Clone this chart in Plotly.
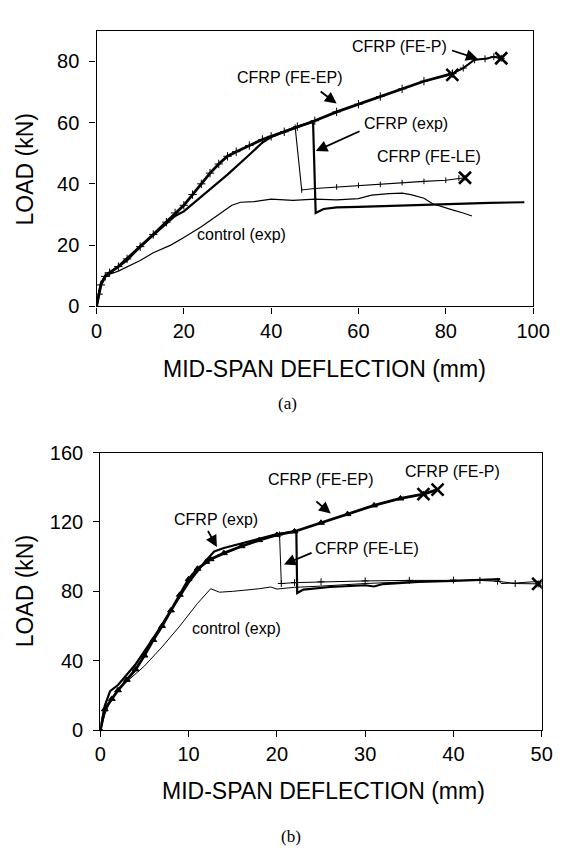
import plotly.graph_objects as go

# ---- panel (a) data : deflection (mm) / load (kN) ----
a_control_x = [0, 0.5, 1, 2, 3, 5, 8, 10, 13, 16, 17, 20, 24, 28, 31, 33, 36, 40, 45, 50,
               55, 60, 63, 67, 70, 72, 75, 77, 79, 81.5, 84, 86]
a_control_y = [0, 4, 7, 9.5, 10.5, 11.5, 13.5, 15, 17.5, 19.5, 20, 22.5, 26, 30, 33, 34, 34.2, 35, 34.6, 35,
               34.8, 35.2, 36.3, 36.8, 37, 36.5, 35.3, 33.5, 32.5, 31.5, 30.5, 29.5]

a_exp_x = [0, 0.5, 1, 2, 4, 7, 10, 14, 18, 20, 25, 30, 35, 38, 40, 43, 46, 49.6, 50.2,
           52, 55, 60, 70, 80, 90, 98]
a_exp_y = [0, 4, 7.5, 10, 12, 15, 19.5, 24.5, 29.5, 31, 37, 43, 49.5, 53.5, 55.3, 57, 58.7, 60.2, 30.5,
           31.8, 32.3, 32.5, 33, 33.5, 33.8, 34]

a_fe_ep_x = [0, 0.5, 1, 2, 3, 5, 7, 10, 13, 16, 18, 20, 22, 24, 26, 28, 30, 32, 35, 38, 40,
             43, 46, 50, 55, 60, 65, 70, 75, 81.5]
a_fe_ep_y = [0, 4, 7, 9.8, 11, 13, 15.5, 19.5, 23.5, 27.5, 30.5, 33, 36.5, 40, 43.5, 46.5, 49, 50.5, 52.5, 54.5, 55.5,
             57, 58.7, 60.6, 63.5, 66, 68.5, 71, 73.5, 76]

a_fe_p_x = [81.5, 84, 86.6, 89, 91, 92.7]
a_fe_p_y = [76, 77.8, 80.5, 80.8, 81.5, 81]

a_fe_le_x = [45.5, 47, 50, 55, 60, 65, 70, 75, 80, 83, 84.4]
a_fe_le_y = [58.5, 38, 38.5, 39, 39.5, 39.8, 40.4, 40.8, 41.2, 41.9, 42]

# ---- panel (b) data ----
b_control_x = [0, 0.5, 1, 2, 3, 5, 7, 9, 11, 12.5, 13.5, 15, 18, 19.3, 20, 22, 25, 30, 35, 40,
               45, 45.4, 47, 50]
b_control_y = [0, 9, 15, 24, 28, 37, 48, 60, 73, 81.5, 79.5, 80, 81.5, 82.5, 81.3, 82.3, 83, 84.5, 85.5, 86.2,
               86.8, 84.5, 84.8, 85.8]

b_exp_x = [0, 0.5, 1.1, 2, 4, 6, 8, 10, 12, 12.9, 14, 16.5, 18, 20, 22.2, 22.3,
           23, 26, 30, 31, 32, 36, 40, 45.3]
b_exp_y = [0, 14, 22.5, 26, 38, 53, 69, 85, 98, 103, 105, 108.5, 110.5, 113, 114.5, 79,
           81, 82.5, 83.5, 82.8, 84.2, 85.5, 86, 87]

b_fe_ep_x = [0, 0.5, 1.3, 2, 3, 4, 5, 6, 7, 8, 9, 10, 11, 12, 12.5, 14, 16, 18, 20, 22,
             25, 28, 31, 34, 36.6]
b_fe_ep_y = [0, 12, 18, 23, 29, 35, 43, 52, 60, 69, 78, 87, 93, 97, 98.5, 102, 106, 109.5, 112.5, 114.5,
             119.5, 124.5, 129.5, 133.5, 136]

b_fe_p_x = [36.6, 38.2]
b_fe_p_y = [136, 138.6]

b_fe_le_x = [20.3, 20.5, 22, 25, 30, 35, 40, 43, 45, 47, 49.6]
b_fe_le_y = [112.5, 84.5, 85, 85.5, 86, 86.3, 86.5, 86.3, 85.8, 84.5, 84.3]

FONT = "Liberation Sans, Arial, sans-serif"
BLACK = "black"

fig = go.Figure()


def add_line(x, y, width, xa, ya, marker=None, msize=4):
    mode = "lines+markers" if marker else "lines"
    fig.add_trace(go.Scatter(
        x=x, y=y, mode=mode, xaxis=xa, yaxis=ya, showlegend=False,
        line=dict(color=BLACK, width=width),
        marker=dict(symbol=marker or "circle", size=msize, color=BLACK,
                    line=dict(color=BLACK, width=1)),
    ))


def add_cross(x, y, xa, ya):
    fig.add_trace(go.Scatter(
        x=[x], y=[y], mode="markers", xaxis=xa, yaxis=ya, showlegend=False,
        marker=dict(symbol="x-thin", size=12, line=dict(color=BLACK, width=2.6)),
    ))


# panel (a)
add_line(a_control_x, a_control_y, 1.2, "x", "y")
add_line(a_fe_le_x, a_fe_le_y, 1.1, "x", "y", marker="line-ns", msize=4)
add_line(a_exp_x, a_exp_y, 2.2, "x", "y")
add_line(a_fe_ep_x, a_fe_ep_y, 2.8, "x", "y", marker="cross-thin", msize=6)
add_line(a_fe_p_x, a_fe_p_y, 2.0, "x", "y", marker="cross-thin", msize=5)
add_cross(a_fe_ep_x[-1], a_fe_ep_y[-1] - 0.4, "x", "y")
add_cross(a_fe_p_x[-1], a_fe_p_y[-1], "x", "y")
add_cross(a_fe_le_x[-1], a_fe_le_y[-1], "x", "y")

# panel (b)
add_line(b_control_x, b_control_y, 1.0, "x2", "y2")
add_line(b_fe_le_x, b_fe_le_y, 1.0, "x2", "y2", marker="cross-thin", msize=5)
add_line(b_exp_x, b_exp_y, 2.2, "x2", "y2")
add_line(b_fe_ep_x, b_fe_ep_y, 2.8, "x2", "y2", marker="triangle-up", msize=6)
add_line(b_fe_p_x, b_fe_p_y, 2.8, "x2", "y2")
add_cross(b_fe_ep_x[-1], b_fe_ep_y[-1], "x2", "y2")
add_cross(b_fe_p_x[-1], b_fe_p_y[-1], "x2", "y2")
add_cross(b_fe_le_x[-1], b_fe_le_y[-1], "x2", "y2")

axis_common = dict(
    showline=True, linecolor=BLACK, linewidth=1.3, mirror=True,
    ticks="outside", ticklen=6, tickwidth=1.2, tickcolor=BLACK,
    showgrid=False, zeroline=False,
    tickfont=dict(family=FONT, size=20, color=BLACK),
)

W, H = 568, 852


def px_dom(a, b, total, flip=False):
    if flip:
        return [1 - b / total, 1 - a / total]
    return [a / total, b / total]


fig.update_layout(
    width=W, height=H,
    margin=dict(l=0, r=0, t=0, b=0),
    paper_bgcolor="white", plot_bgcolor="white",
    xaxis=dict(domain=px_dom(86, 541, W), range=[0, 100], dtick=20, anchor="y",
               **axis_common),
    yaxis=dict(domain=px_dom(12, 295, H, flip=True), range=[0, 90], dtick=20, anchor="x",
               ticklabelstandoff=6, **axis_common),
    xaxis2=dict(domain=px_dom(90, 550, W), range=[0, 50], dtick=10, anchor="y2",
                **axis_common),
    yaxis2=dict(domain=px_dom(445, 730, H, flip=True), range=[0, 160], dtick=40, anchor="x2",
                ticklabelstandoff=6, **axis_common),
)

label_font = dict(family=FONT, size=16, color=BLACK)
title_font = dict(family=FONT, size=23, color=BLACK)
caption_font = dict(family="Liberation Serif, Times New Roman, serif", size=17, color=BLACK)

anns = []


def text(x, y, s, xa, ya):
    anns.append(dict(x=x, y=y, xref=xa, yref=ya, text=s, showarrow=False, font=label_font))


def arrow(x0, y0, x1, y1, xa, ya):
    anns.append(dict(x=x1, y=y1, ax=x0, ay=y0, xref=xa, yref=ya, axref=xa, ayref=ya,
                     text="", showarrow=True, arrowhead=2, arrowsize=1.3, arrowwidth=1.8,
                     arrowcolor=BLACK))


# panel (a) labels
text(69.3, 84.7, "CFRP (FE-P)", "x", "y")
arrow(81.1, 83.7, 87.3, 80.8, "x", "y")
text(44.2, 74.7, "CFRP (FE-EP)", "x", "y")
arrow(51, 70.5, 55, 66.2, "x", "y")
text(70.9, 59.8, "CFRP (exp)", "x", "y")
arrow(60.6, 57.4, 50.2, 50.7, "x", "y")
text(76.1, 48.9, "CFRP (FE-LE)", "x", "y")
text(33.1, 23.4, "control (exp)", "x", "y")

# panel (b) labels
text(39.9, 148.9, "CFRP (FE-P)", "x2", "y2")
text(24.9, 144.6, "CFRP (FE-EP)", "x2", "y2")
arrow(24.3, 132.5, 26.1, 124.8, "x2", "y2")
text(13.1, 121.2, "CFRP (exp)", "x2", "y2")
arrow(12.1, 115.6, 13.2, 105.5, "x2", "y2")
text(30.2, 104.4, "CFRP (FE-LE)", "x2", "y2")
arrow(24.1, 102.5, 20.8, 95.5, "x2", "y2")
text(15.4, 58.5, "control (exp)", "x2", "y2")

# axis titles and captions in paper coordinates
for cx, cy, s, ang, f in [
    (324, 359, "MID-SPAN DEFLECTION (mm)", 0, title_font),
    (11, 155, "LOAD (kN)", -90, title_font),
    (285, 395, "(a)", 0, caption_font),
    (323, 792, "MID-SPAN DEFLECTION (mm)", 0, title_font),
    (11, 588, "LOAD (kN)", -90, title_font),
    (289, 839, "(b)", 0, caption_font),
]:
    anns.append(dict(x=cx / W, y=1 - cy / H, xref="paper", yref="paper", text=s,
                     showarrow=False, textangle=ang, font=f,
                     xanchor="center", yanchor="middle"))

fig.update_layout(annotations=anns)

fig.write_html("out.html")
